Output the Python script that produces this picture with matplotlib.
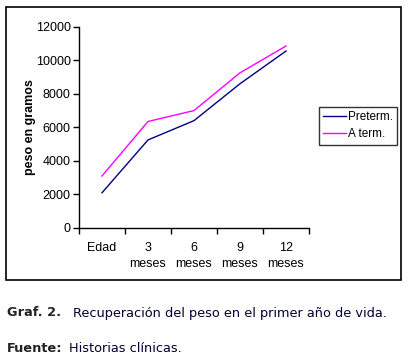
import matplotlib
matplotlib.use("Agg")
import matplotlib.pyplot as plt
from matplotlib.patches import Rectangle
from matplotlib.ticker import FixedLocator, NullFormatter

# data
categorias = ["Edad", "3\nmeses", "6\nmeses", "9\nmeses", "12\nmeses"]
preterm = [2100, 5250, 6400, 8600, 10550]
a_term = [3100, 6350, 7000, 9250, 10850]
yticks = [0, 2000, 4000, 6000, 8000, 10000, 12000]

W, H = 408, 361
fig = plt.figure(figsize=(W / 100, H / 100), dpi=100)
plt.rcParams['font.family'] = ['Liberation Sans', 'DejaVu Sans']

# outer frame of the chart
fig.patches.append(Rectangle((6 / W, 1 - 280 / H), 395 / W, 273 / H,
                             transform=fig.transFigure, fill=False,
                             edgecolor='black', linewidth=1.2))

ax = fig.add_axes([79 / W, 1 - 228 / H, 230 / W, (228 - 26.7) / H])
x = list(range(len(categorias)))
ax.plot(x, preterm, color='#000080', linewidth=1, label='Preterm.')
ax.plot(x, a_term, color='#FF00FF', linewidth=1, label='A term.')

ax.set_xlim(-0.5, len(categorias) - 0.5)
ax.set_ylim(0, 12000)
ax.set_yticks(yticks)
ax.tick_params(axis='y', direction='out', length=4, width=1, labelsize=9, pad=2)

# ticks between categories, labels centered on categories
ax.xaxis.set_major_locator(FixedLocator([i - 0.5 for i in range(len(categorias) + 1)]))
ax.xaxis.set_major_formatter(NullFormatter())
ax.set_xticks(x, minor=True)
ax.set_xticklabels(categorias, minor=True, fontsize=9, linespacing=1.45)
ax.tick_params(axis='x', which='major', direction='out', length=4, width=1)
ax.tick_params(axis='x', which='minor', length=0, pad=10)

for s in ['top', 'right']:
    ax.spines[s].set_visible(False)
for s in ['left', 'bottom']:
    ax.spines[s].set_linewidth(1)

ax.set_ylabel('peso en gramos', fontsize=9, fontweight='bold', labelpad=0)

leg = fig.legend(loc='upper left', bbox_to_anchor=(319 / W, 1 - 107 / H),
                 bbox_transform=fig.transFigure, fontsize=8.5, frameon=True,
                 fancybox=False, handlelength=1.9, handletextpad=0.2,
                 borderpad=0.35, labelspacing=0.45, borderaxespad=0)
leg.get_frame().set_edgecolor('black')
leg.get_frame().set_linewidth(1)

# caption below the chart
cap = dict(fontsize=9.3, family='DejaVu Sans', va='center')
fig.text(7 / W, 1 - 313 / H, 'Graf. 2.', fontweight='bold', color='#222222', **cap)
fig.text(73 / W, 1 - 313 / H, 'Recuperación del peso en el primer año de vida.',
         color='#000033', **cap)
fig.text(7 / W, 1 - 349 / H, 'Fuente:', fontweight='bold', color='#222222', **cap)
fig.text(69 / W, 1 - 349 / H, 'Historias clínicas.', color='#000033', **cap)

fig.savefig('out.png', dpi=100)
